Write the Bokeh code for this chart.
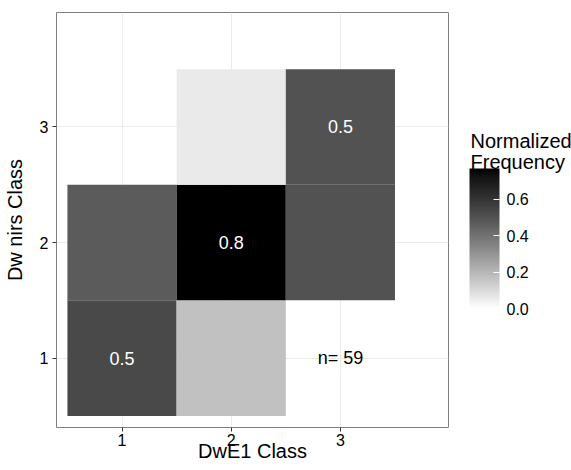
from bokeh.plotting import figure
from bokeh.layouts import row, column
from bokeh.models import (ColumnDataSource, LinearColorMapper, ColorBar, FixedTicker,
                          Range1d, PrintfTickFormatter)
from bokeh.transform import transform
from bokeh.core.properties import value
from bokeh.embed import file_html
from bokeh.resources import INLINE

# ---- data ----
x_class = [1, 1, 2, 2, 2, 3, 3]
y_class = [1, 2, 1, 2, 3, 2, 3]
freq = [0.53, 0.47, 0.17, 0.77, 0.06, 0.50, 0.50]
axis_ticks = [1, 2, 3]
legend_ticks = [0.0, 0.2, 0.4, 0.6]
n_total = 59
x_title = "DwE1 Class"
y_title = "Dw nirs Class"
legend_title = ["Normalized", "Frequency"]

FONT = "Liberation Sans"


def lab_gray(L):
    # L* -> sRGB gray level (Lab interpolation white->black, as ggplot)
    f = (L + 16.0) / 116.0
    Y = f ** 3 if L > 8 else L / 903.3
    c = 12.92 * Y if Y <= 0.0031308 else 1.055 * Y ** (1 / 2.4) - 0.055
    g = max(0, min(255, int(round(c * 255))))
    return "#%02x%02x%02x" % (g, g, g)


palette = [lab_gray(100.0 * (1 - i / 255.0)) for i in range(256)]
mapper = LinearColorMapper(palette=palette, low=0.0, high=max(freq))

labels = [("%.1f" % f) if xx == yy else "" for xx, yy, f in zip(x_class, y_class, freq)]
src = ColumnDataSource(dict(x=x_class, y=y_class, f=freq, lab=labels))

W, H = 571, 470
MAIN_W = 455
LEG_W = W - MAIN_W

# ---------------- main heat map ----------------
p = figure(width=MAIN_W, height=H, x_range=Range1d(0.4, 3.99), y_range=Range1d(0.4, 3.99),
           output_backend="svg", toolbar_location=None,
           min_border_left=53, min_border_top=12, min_border_bottom=H - 427, min_border_right=7)
p.background_fill_color = "white"
p.border_fill_color = "white"
p.outline_line_color = "#7f7f7f"
p.outline_line_width = 1

p.rect(x="x", y="y", width=1, height=1, source=src,
       fill_color=transform("f", mapper), line_color=None)
p.text(x="x", y="y", text="lab", source=src, text_color="white",
       text_font=value(FONT), text_font_size="18px",
       text_align="center", text_baseline="middle")
p.text(x=[3], y=[1], text=["n= %d" % n_total], text_color="black",
       text_font=value(FONT), text_font_size="18px",
       text_align="center", text_baseline="middle")

for ax in (p.xaxis[0], p.yaxis[0]):
    ax.ticker = FixedTicker(ticks=axis_ticks)
    ax.axis_line_color = None
    ax.major_tick_out = 4
    ax.major_tick_in = 0
    ax.minor_tick_out = 0
    ax.minor_tick_in = 0
    ax.major_tick_line_color = "#333333"
    ax.major_label_text_font = FONT
    ax.major_label_text_font_size = "16px"
    ax.major_label_text_color = "black"
    ax.axis_label_text_font = FONT
    ax.axis_label_text_font_size = "20px"
    ax.axis_label_text_font_style = "normal"
    ax.axis_label_text_color = "black"
p.xaxis.axis_label = x_title
p.xaxis.major_label_standoff = 2
p.xaxis.axis_label_standoff = -9
p.yaxis.major_label_standoff = 4
p.yaxis.axis_label = y_title
p.yaxis.axis_label_standoff = 11
p.yaxis.major_label_orientation = "horizontal"

for g in (p.xgrid[0], p.ygrid[0]):
    g.ticker = FixedTicker(ticks=axis_ticks)
    g.grid_line_color = "#ebebeb"
    g.grid_line_width = 1

# ---------------- legend panel (y measured upward from the bottom of the page) ----------------
leg = figure(width=LEG_W, height=H, x_range=Range1d(0, LEG_W), y_range=Range1d(0, H),
             output_backend="svg", toolbar_location=None, x_axis_type=None, y_axis_type=None,
             min_border=0)
leg.outline_line_color = None
leg.grid.visible = False
leg.border_fill_color = "white"

cb = ColorBar(color_mapper=mapper, ticker=FixedTicker(ticks=legend_ticks),
              formatter=PrintfTickFormatter(format="%.1f"),
              width=30, height=140, padding=0, margin=0, title=None,
              major_label_text_font=FONT, major_label_text_font_size="16px",
              major_label_text_color="black",
              label_standoff=7, major_tick_line_color="white", major_tick_in=6,
              major_tick_out=0, bar_line_color=None, border_line_color=None,
              background_fill_color=None, location=(14, H - 308))
leg.add_layout(cb)
leg.text(x=[15, 15], y=[H - 140, H - 161], text=legend_title, text_color="black",
         text_font=value(FONT), text_font_size="20px",
         text_align="left", text_baseline="alphabetic")

# the heat map is wrapped in a column so the legend panel keeps its own full-height frame
open("out.html", "w").write(file_html(row(column(p), leg), INLINE))
